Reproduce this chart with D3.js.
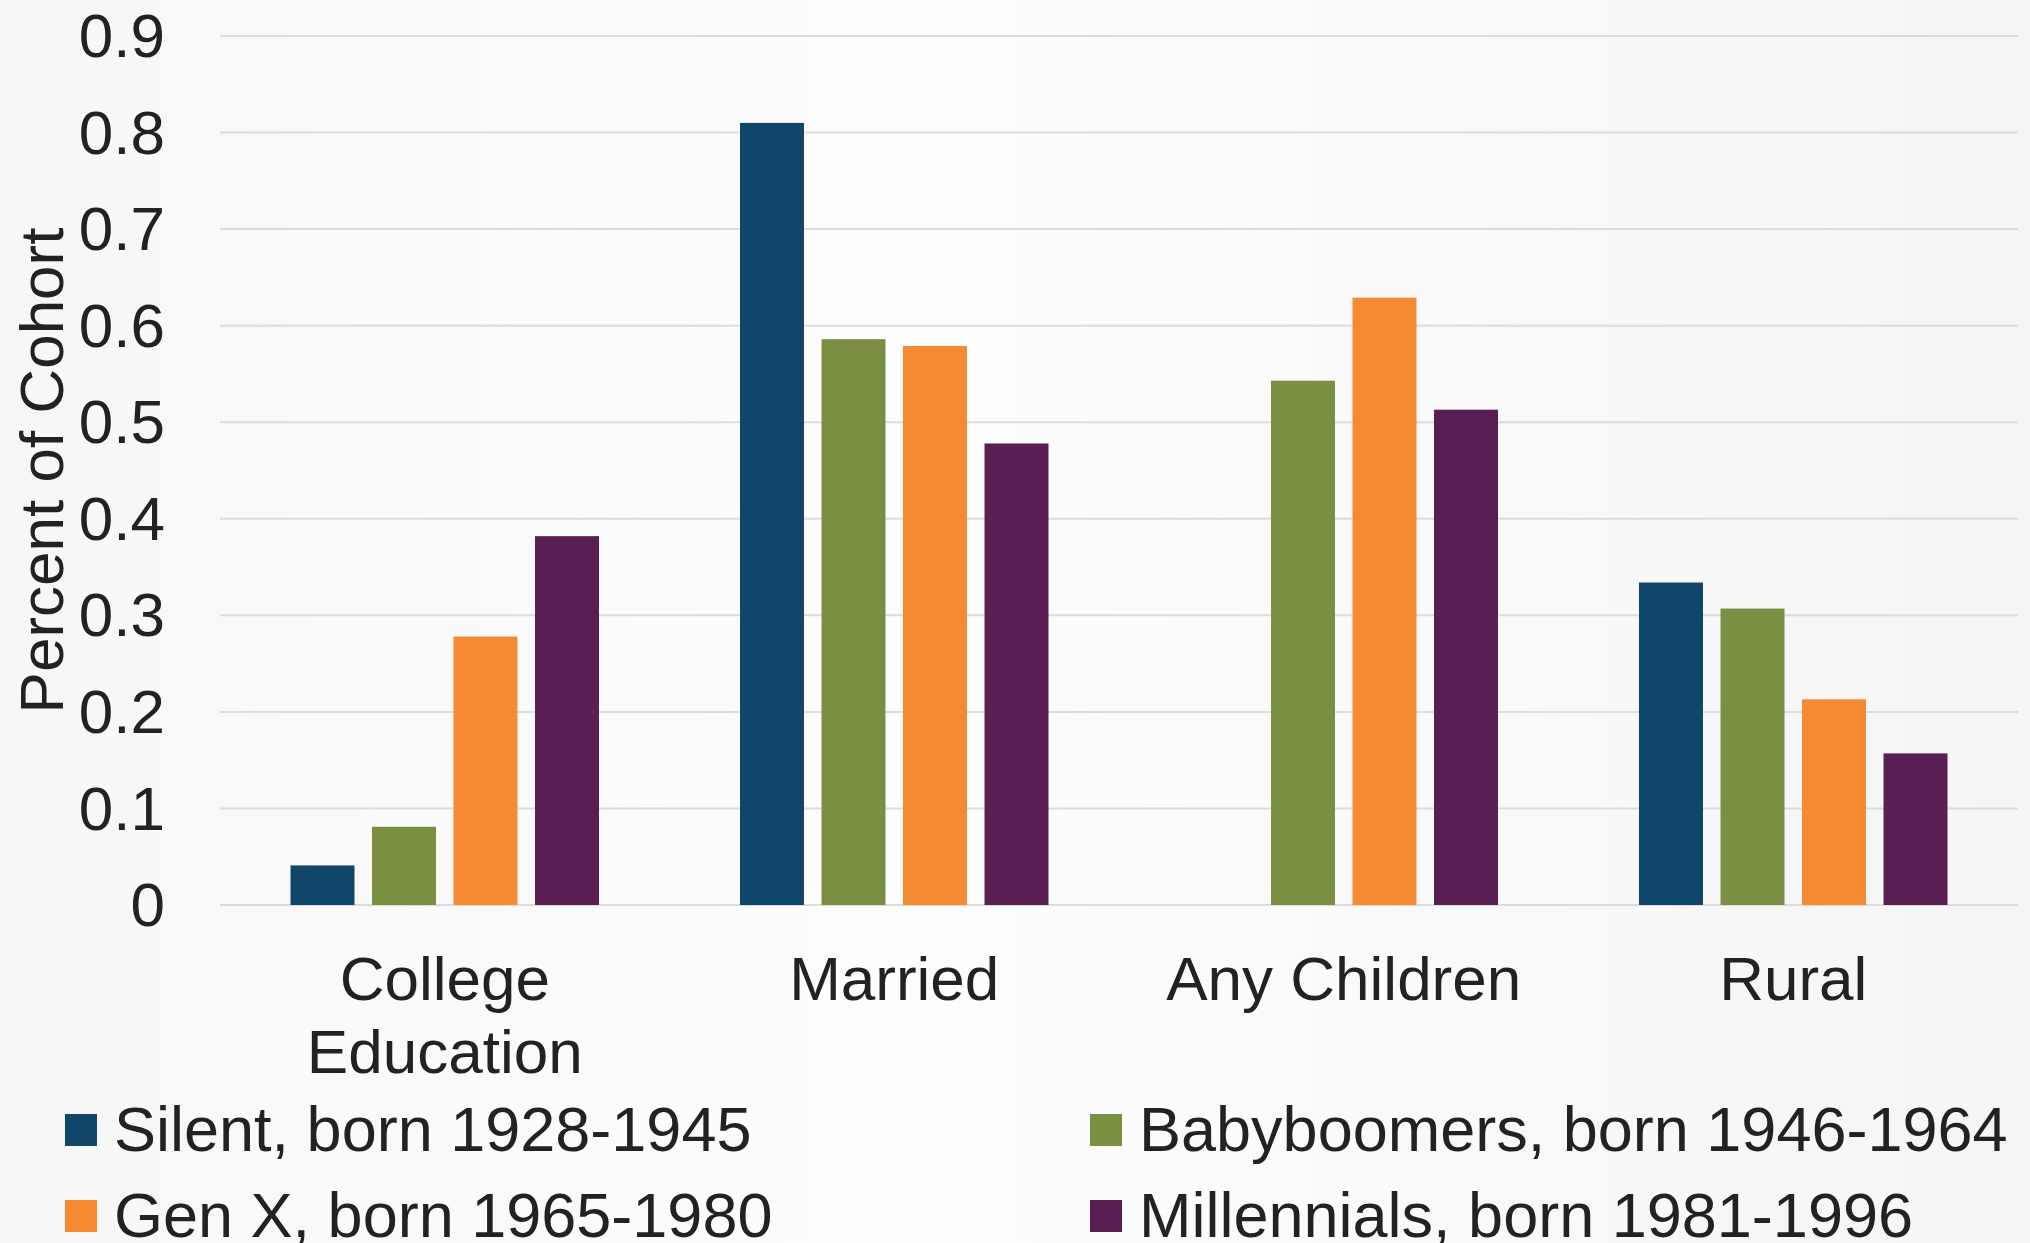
<!DOCTYPE html>
<html>
<head>
<meta charset="utf-8">
<script src="https://cdn.jsdelivr.net/npm/d3@7"></script>
<style>
  html, body { margin: 0; padding: 0; background: #fbfbfb; }
  svg { display: block; font-family: "Liberation Sans", Arial, sans-serif; }
</style>
</head>
<body>
<div id="chart"></div>
<script>
// Chart data
const categories = ['College Education', 'Married', 'Any Children', 'Rural'];
const categoryLines = [['College', 'Education'], ['Married'], ['Any Children'], ['Rural']];
const seriesNames = ['Silent, born 1928-1945', 'Babyboomers, born 1946-1964', 'Gen X, born 1965-1980', 'Millennials, born 1981-1996'];
const silent = [0.041, 0.81, null, 0.334];
const babyboomers = [0.081, 0.586, 0.543, 0.307];
const genX = [0.278, 0.579, 0.629, 0.213];
const millennials = [0.382, 0.478, 0.513, 0.157];
const yTicks = [0, 0.1, 0.2, 0.3, 0.4, 0.5, 0.6, 0.7, 0.8, 0.9];
const colors = ['#104768', '#7a8f41', '#f48a31', '#5a1f52'];

const seriesValues = [silent, babyboomers, genX, millennials];

const width = 2030;
const height = 1243;
const margin = { top: 36, right: 12, bottom: 338, left: 220 };
const fontSize = 62;

const svg = d3.select('#chart')
    .append('svg')
    .attr('width', width)
    .attr('height', height);

// Soft background
const defs = svg.append('defs');
const grad = defs.append('linearGradient').attr('id', 'bg').attr('x1', 0).attr('x2', 1).attr('y1', 0).attr('y2', 0);
grad.append('stop').attr('offset', '0%').attr('stop-color', '#f7f7f7');
grad.append('stop').attr('offset', '45%').attr('stop-color', '#fdfdfd');
grad.append('stop').attr('offset', '100%').attr('stop-color', '#f5f5f5');
svg.append('rect').attr('width', width).attr('height', height).attr('fill', 'url(#bg)');

// Scales
const x0 = d3.scaleBand()
    .domain(categories)
    .range([margin.left, width - margin.right])
    .padding(0);

const x1 = d3.scaleBand()
    .domain(seriesNames)
    .range([0, x0.bandwidth()])
    .paddingInner(0.215)
    .paddingOuter(0.865);

const y = d3.scaleLinear()
    .domain([0, 0.9])
    .range([height - margin.bottom, margin.top]);

// Gridlines
svg.append('g')
    .selectAll('line')
    .data(yTicks)
    .join('line')
    .attr('x1', margin.left)
    .attr('x2', width - margin.right)
    .attr('y1', d => y(d))
    .attr('y2', d => y(d))
    .attr('stroke', '#dcdcdc')
    .attr('stroke-width', 2);

// Y tick labels
svg.append('g')
    .selectAll('text')
    .data(yTicks)
    .join('text')
    .attr('x', margin.left - 55)
    .attr('y', d => y(d))
    .attr('dy', '0.34em')
    .attr('text-anchor', 'end')
    .attr('font-size', fontSize)
    .attr('fill', '#222')
    .text(d => d === 0 ? '0' : d3.format('.1f')(d));

// Y axis title
svg.append('text')
    .attr('transform', `translate(63, ${(y(0) + y(0.9)) / 2}) rotate(-90)`)
    .attr('text-anchor', 'middle')
    .attr('font-size', fontSize)
    .attr('fill', '#222')
    .text('Percent of Cohort');

// Bars
const groups = svg.append('g')
    .selectAll('g')
    .data(categories)
    .join('g')
    .attr('transform', d => `translate(${x0(d)},0)`);

groups.selectAll('rect')
    .data((d, i) => seriesNames.map((s, j) => ({ series: s, value: seriesValues[j][i], color: colors[j] })))
    .join('rect')
    .filter(d => d.value !== null)
    .attr('x', d => x1(d.series))
    .attr('width', x1.bandwidth())
    .attr('y', d => y(d.value))
    .attr('height', d => y(0) - y(d.value))
    .attr('fill', d => d.color);

// Category labels
const catLabels = svg.append('g')
    .selectAll('text')
    .data(categories)
    .join('text')
    .attr('x', d => x0(d) + x0.bandwidth() / 2)
    .attr('y', y(0) + 95)
    .attr('text-anchor', 'middle')
    .attr('font-size', fontSize)
    .attr('fill', '#222');

catLabels.selectAll('tspan')
    .data((d, i) => categoryLines[i])
    .join('tspan')
    .attr('x', function () { return d3.select(this.parentNode).attr('x'); })
    .attr('dy', (d, i) => i === 0 ? 0 : 73)
    .text(d => d);

// Legend (bottom row is clipped by the page edge, as in the original)
const legendCols = [65, 1090];
const legendRows = [1130, 1216];
const legend = svg.append('g')
    .selectAll('g')
    .data(seriesNames)
    .join('g')
    .attr('transform', (d, i) => `translate(${legendCols[i % 2]}, ${legendRows[Math.floor(i / 2)]})`);

legend.append('rect')
    .attr('x', 0)
    .attr('y', -16)
    .attr('width', 32)
    .attr('height', 32)
    .attr('fill', (d, i) => colors[i]);

legend.append('text')
    .attr('x', 49)
    .attr('y', 0)
    .attr('dy', '0.34em')
    .attr('font-size', 63)
    .attr('fill', '#222')
    .text(d => d);
</script>
</body>
</html>
